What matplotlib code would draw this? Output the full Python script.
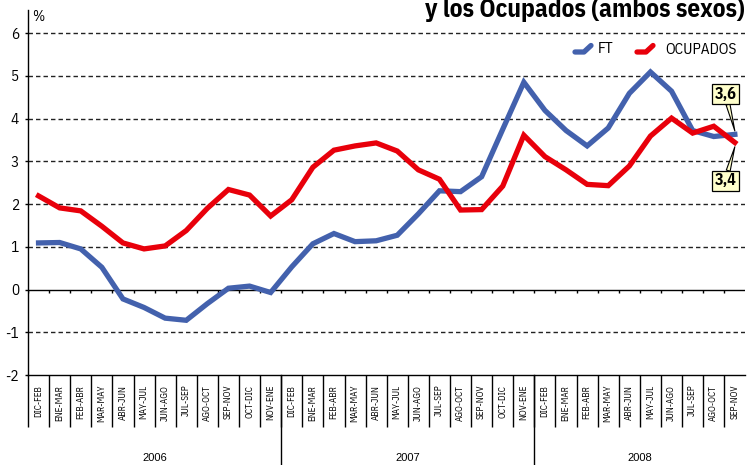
import matplotlib
matplotlib.use("Agg")
import matplotlib.pyplot as plt
import matplotlib.transforms as mtransforms
from matplotlib.lines import Line2D
import numpy as np

W, H = 747, 465

PERIODS = [
    "DIC-FEB", "ENE-MAR", "FEB-ABR", "MAR-MAY", "ABR-JUN", "MAY-JUL",
    "JUN-AGO", "JUL-SEP", "AGO-OCT", "SEP-NOV", "OCT-DIC", "NOV-ENE",
]
LABELS = PERIODS + PERIODS + PERIODS[:10]
YEARS = ["2006", "2007", "2008"]
YEAR_SIZES = [12, 12, 10]

FT = [1.09, 1.10, 0.95, 0.52, -0.22, -0.42, -0.67, -0.72, -0.33, 0.03, 0.08, -0.07,
      0.53, 1.07, 1.31, 1.12, 1.14, 1.27, 1.77, 2.31, 2.29, 2.64, 3.75, 4.85,
      4.19, 3.72, 3.36, 3.78, 4.59, 5.09, 4.64, 3.72, 3.58, 3.63]
OCUPADOS = [2.19, 1.91, 1.84, 1.48, 1.09, 0.95, 1.02, 1.38, 1.90, 2.34, 2.21, 1.72,
            2.10, 2.86, 3.26, 3.36, 3.43, 3.24, 2.80, 2.58, 1.86, 1.87, 2.42, 3.61,
            3.11, 2.80, 2.46, 2.43, 2.89, 3.59, 4.01, 3.66, 3.82, 3.44]

BLUE = "#4361ad"
RED = "#e8000b"
NARROW = ["IBM Plex Sans Condensed", "Open Sans Condensed", "Liberation Sans Narrow",
          "DejaVu Sans"]
ARIAL = ["Liberation Sans", "DejaVu Sans"]

fig = plt.figure(figsize=(W / 100, H / 100), dpi=100)
ax = fig.add_axes([28 / W, 90 / H, (745.4 - 28) / W, 365 / H])

x = np.arange(len(LABELS))
ax.plot(x, FT, color=BLUE, lw=3.8, solid_joinstyle="miter", zorder=3)
ax.plot(x, OCUPADOS, color=RED, lw=3.8, solid_joinstyle="miter", zorder=4)

ax.set_xlim(-0.5, len(LABELS) - 0.5)
ax.set_ylim(-2, 6.54)

# dashed grid + solid zero line
for v in [-1, 1, 2, 3, 4, 5, 6]:
    ax.axhline(v, color="#222222", lw=1.0, ls=(0, (3.2, 2.2)), zorder=1)
ax.axhline(0, color="black", lw=1.0, zorder=2)
bounds = np.arange(-0.5, len(LABELS) - 1, 1.0)
ax.vlines(bounds, -0.09, 0, color="black", lw=1.0, zorder=2)

for s in ("top", "right"):
    ax.spines[s].set_visible(False)
for s in ("left", "bottom"):
    ax.spines[s].set_linewidth(1.0)

ax.set_yticks(range(-2, 7))
ax.set_yticklabels([str(v) for v in range(-2, 7)], family=NARROW, fontsize=11)
ax.tick_params(axis="y", length=2.5, width=1.0, pad=4)

ax.set_xticks(x)
ax.set_xticklabels(LABELS, rotation=90, family=NARROW, fontsize=6.6)
ax.tick_params(axis="x", which="major", length=0, pad=7)
ax.set_xticks(bounds, minor=True)
ax.tick_params(axis="x", which="minor", length=37.5, width=1.0)

ax.text(0.006, 1.0, "%", transform=ax.transAxes, fontsize=10.5, family=NARROW,
        ha="left", va="top")

# year separators and labels
trans = mtransforms.blended_transform_factory(ax.transData, fig.transFigure)
start = 0
for year, n in zip(YEARS, YEAR_SIZES):
    if start > 0:
        ax.add_line(Line2D([start - 0.5, start - 0.5], [0, 90 / H], transform=trans,
                           color="black", lw=1.0, clip_on=False))
    ax.text(start + n / 2 - 0.5, 7 / H, year, transform=trans, ha="center",
            va="center", fontsize=8, family=ARIAL)
    start += n

# title (only the lower line is visible)
fig.text(745 / W, (H - 16.7) / H, "y los Ocupados (ambos sexos)", ha="right",
         va="baseline", fontsize=18.2, fontweight="bold", family=NARROW)

# legend drawn by hand
def _legend_mark(x0, color):
    xs = np.array([x0, x0 + 9, x0 + 16]) / W
    ys = (H - np.array([52, 52, 45.5])) / H
    fig.add_artist(Line2D(xs, ys, transform=fig.transFigure, color=color, lw=3.8,
                          solid_capstyle="round", solid_joinstyle="round"))

_legend_mark(575, BLUE)
fig.text(598 / W, (H - 49) / H, "FT", fontsize=11, family=NARROW, va="center")
_legend_mark(637, RED)
fig.text(665 / W, (H - 50) / H, "OCUPADOS", fontsize=11, family=NARROW, va="center")

# end-value callouts
box = dict(boxstyle="square,pad=0.15", fc="#ffffcc", ec="black", lw=0.9)
wedge = dict(arrowstyle="wedge,tail_width=0.25", fc="#ffffcc", ec="black", lw=0.8,
             shrinkA=0, shrinkB=0)
last = len(LABELS) - 1
ax.annotate(f"{FT[-1]:.1f}".replace(".", ","), xy=(last, FT[-1] + 0.08),
            xytext=(32.55, 4.57), ha="center", va="center", fontsize=11.5,
            fontweight="bold", family=NARROW, bbox=box, arrowprops=wedge, zorder=6)
ax.annotate(f"{OCUPADOS[-1]:.1f}".replace(".", ","), xy=(last, OCUPADOS[-1] - 0.1),
            xytext=(32.55, 2.54), ha="center", va="center", fontsize=11.5,
            fontweight="bold", family=NARROW, bbox=box, arrowprops=wedge, zorder=6)

fig.savefig("out.png", dpi=100, facecolor="white")
